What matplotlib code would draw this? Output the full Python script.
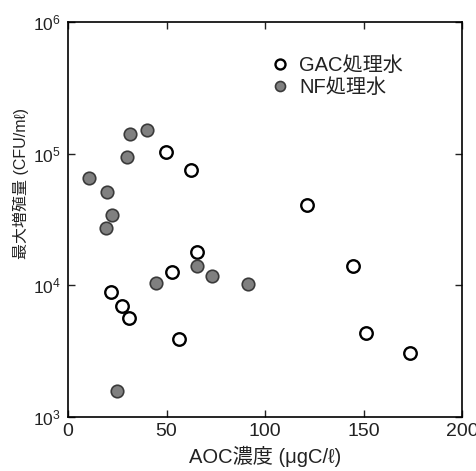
import matplotlib
matplotlib.use("Agg")
import matplotlib.pyplot as plt
from matplotlib.ticker import LogLocator, NullLocator

plt.rcParams["font.family"] = ["Liberation Sans", "Noto Sans CJK JP", "DejaVu Sans"]
plt.rcParams["mathtext.fontset"] = "custom"
plt.rcParams["mathtext.rm"] = "Liberation Sans"

# GAC処理水 (open circles)
gac_aoc = [49.8, 62.5, 121.3, 65.7, 52.8, 144.6, 21.8, 27.3, 31.0, 56.4, 151.4, 173.4]
gac_cfu = [1.03e5, 7.5e4, 4.1e4, 1.8e4, 1.26e4, 1.39e4, 8.9e3, 6.95e3, 5.6e3, 3.9e3, 4.3e3, 3.05e3]

# NF処理水 (grey filled circles)
nf_aoc = [31.5, 40.3, 29.8, 10.8, 20.0, 22.5, 19.2, 65.7, 73.0, 44.6, 91.3, 25.0]
nf_cfu = [1.4e5, 1.51e5, 9.4e4, 6.5e4, 5.07e4, 3.4e4, 2.7e4, 1.39e4, 1.17e4, 1.03e4, 1.02e4, 1.57e3]

labels = ["GAC処理水", "NF処理水"]
x_ticks = [0, 50, 100, 150, 200]

fig = plt.figure(figsize=(4.77, 4.71), dpi=100)
ax = fig.add_axes([0.1426, 0.1157, 0.826, 0.837])

ax.plot(gac_aoc, gac_cfu, "o", ms=9, mfc="white", mec="black", mew=1.7,
        linestyle="none", label=labels[0])
ax.plot(nf_aoc, nf_cfu, "o", ms=9, mfc="#808080", mec="#3a3a3a", mew=1.2,
        linestyle="none", label=labels[1])

ax.set_yscale("log")
ax.set_xlim(0, 200)
ax.set_ylim(1e3, 1e6)
ax.set_xticks(x_ticks)
ax.yaxis.set_major_locator(LogLocator(base=10, numticks=10))
ax.yaxis.set_minor_locator(NullLocator())

ax.tick_params(direction="in", top=True, right=True, length=5, width=1,
               pad=5, colors="#222222")
ax.tick_params(axis="x", labelsize=14)
ax.tick_params(axis="y", labelsize=12.5)
for s in ax.spines.values():
    s.set_linewidth(1.2)

ax.set_xlabel("AOC濃度 (\u03bcgC/\u2113)", fontsize=14.5, labelpad=4, color="#222222")
ax.set_ylabel("最大増殖量 (CFU/m\u2113)", fontsize=11.5, color="#222222")
ax.yaxis.set_label_coords(-0.098, 0.59)

ax.legend(loc="upper left", bbox_to_anchor=(0.5, 0.935), frameon=False,
          fontsize=14.5, markerscale=0.8, handlelength=0.7, handletextpad=0.6,
          labelspacing=0.15, borderaxespad=0, labelcolor="#222222")

fig.savefig("out.png", dpi=100)
